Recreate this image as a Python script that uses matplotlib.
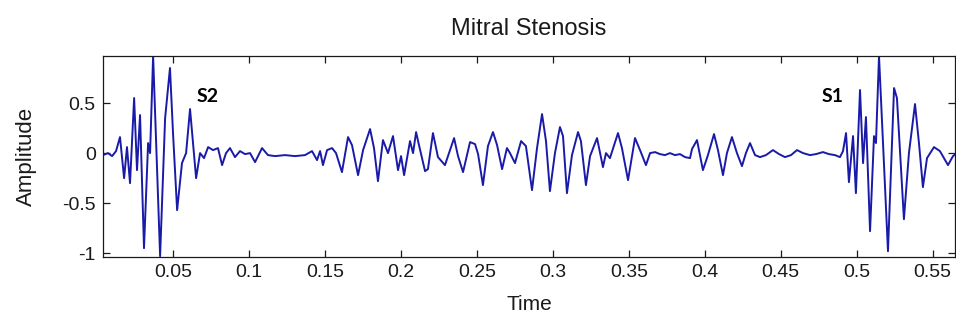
import matplotlib
matplotlib.use("Agg")
import matplotlib.pyplot as plt
from matplotlib import font_manager

# Heart-sound recording (mitral stenosis): time in seconds, normalised amplitude
time_s = [
    0.0039, 0.0072, 0.0099, 0.0125, 0.0151, 0.0178, 0.0197, 0.0217, 0.0244, 0.0263,
    0.0283, 0.0309, 0.0336, 0.0349, 0.0369, 0.0415, 0.0448, 0.0480, 0.0500, 0.0527,
    0.0559, 0.0586, 0.0612, 0.0652, 0.0678, 0.0704, 0.0731, 0.0763, 0.0796, 0.0823,
    0.0849, 0.0875, 0.0908, 0.0941, 0.0974, 0.1007, 0.1040, 0.1086, 0.1125, 0.1172,
    0.1237, 0.1303, 0.1369, 0.1415, 0.1448, 0.1468, 0.1487, 0.1514, 0.1547, 0.1573,
    0.1612, 0.1652, 0.1678, 0.1718, 0.1751, 0.1797, 0.1823, 0.1849, 0.1882, 0.1915,
    0.1948, 0.1981, 0.2001, 0.2021, 0.2060, 0.2080, 0.2100, 0.2119, 0.2159, 0.2178,
    0.2211, 0.2244, 0.2290, 0.2323, 0.2350, 0.2376, 0.2409, 0.2455, 0.2488, 0.2508,
    0.2540, 0.2573, 0.2606, 0.2633, 0.2666, 0.2698, 0.2718, 0.2751, 0.2791, 0.2823,
    0.2863, 0.2896, 0.2929, 0.2955, 0.2981, 0.3014, 0.3047, 0.3067, 0.3093, 0.3126,
    0.3166, 0.3185, 0.3218, 0.3245, 0.3291, 0.3330, 0.3350, 0.3376, 0.3429, 0.3455,
    0.3495, 0.3541, 0.3574, 0.3613, 0.3640, 0.3673, 0.3705, 0.3738, 0.3771, 0.3804,
    0.3837, 0.3870, 0.3903, 0.3916, 0.3949, 0.3988, 0.4021, 0.4061, 0.4087, 0.4120,
    0.4146, 0.4179, 0.4212, 0.4245, 0.4271, 0.4298, 0.4331, 0.4364, 0.4403, 0.4449,
    0.4489, 0.4528, 0.4568, 0.4607, 0.4647, 0.4693, 0.4732, 0.4778, 0.4818, 0.4857,
    0.4890, 0.4910, 0.4930, 0.4949, 0.4976, 0.4995, 0.5022, 0.5042, 0.5061, 0.5088,
    0.5114, 0.5127, 0.5147, 0.5173, 0.5206, 0.5246, 0.5265, 0.5311, 0.5344, 0.5384,
    0.5410, 0.5436, 0.5463, 0.5509, 0.5548, 0.5601, 0.5634, 0.5660,
]
amplitude = [
    -0.02, 0.00, -0.03, 0.02, 0.16, -0.25, 0.06, -0.30, 0.55, -0.17,
    0.38, -0.95, 0.10, 0.00, 0.97, -1.03, 0.35, 0.85, 0.20, -0.57,
    -0.10, 0.00, 0.44, -0.25, 0.00, -0.05, 0.06, 0.03, 0.05, -0.12,
    0.00, 0.05, -0.04, 0.02, -0.01, 0.00, -0.09, 0.05, -0.02, -0.03,
    -0.02, -0.03, -0.02, 0.02, -0.07, 0.02, -0.12, 0.03, 0.05, 0.00,
    -0.19, 0.16, 0.08, -0.22, 0.03, 0.24, 0.05, -0.28, 0.13, 0.00,
    0.17, -0.17, -0.03, -0.22, 0.12, 0.00, 0.21, 0.08, -0.18, -0.16,
    0.20, -0.04, -0.12, 0.03, 0.15, -0.03, -0.19, 0.11, 0.09, -0.01,
    -0.32, 0.07, 0.21, 0.08, -0.16, 0.05, 0.00, -0.10, 0.12, 0.07,
    -0.37, 0.05, 0.39, 0.12, -0.38, 0.00, 0.26, 0.17, -0.40, -0.02,
    0.21, 0.12, -0.32, -0.03, 0.15, -0.14, 0.00, -0.05, 0.20, 0.05,
    -0.27, 0.15, 0.03, -0.12, 0.00, 0.01, -0.01, -0.02, 0.00, -0.02,
    -0.01, -0.04, -0.05, 0.04, 0.13, -0.17, -0.02, 0.19, 0.03, -0.22,
    0.00, 0.16, 0.00, -0.13, 0.00, 0.10, -0.02, -0.04, -0.02, 0.03,
    -0.01, -0.04, -0.02, 0.03, 0.00, -0.02, -0.01, 0.01, -0.01, -0.02,
    -0.04, 0.02, 0.20, -0.29, 0.17, -0.40, 0.63, -0.10, 0.36, -0.78,
    0.17, 0.10, 0.97, 0.10, -0.98, 0.65, 0.55, -0.66, 0.00, 0.49,
    0.10, -0.34, -0.05, 0.06, 0.02, -0.12, -0.03, 0.00,
]

x_ticks = [0.05, 0.10, 0.15, 0.20, 0.25, 0.30, 0.35, 0.40, 0.45, 0.50, 0.55]
x_tick_labels = ["0.05", "0.1", "0.15", "0.2", "0.25", "0.3", "0.35", "0.4", "0.45", "0.5", "0.55"]
y_ticks = [-1.0, -0.5, 0.0, 0.5]
y_tick_labels = ["-1", "-0.5", "0", "0.5"]

# Heart-sound markers: (label, time, amplitude of the text baseline)
sound_labels = ["S2", "S1"]
sound_times = [0.0727, 0.4844]
sound_levels = [0.515, 0.515]

installed = {f.name for f in font_manager.fontManager.ttflist}
axis_font = "Liberation Sans Narrow" if "Liberation Sans Narrow" in installed else "Liberation Sans"

fig = plt.figure(figsize=(9.56, 3.27), dpi=100)
ax = fig.add_axes([0.1074, 0.215, 0.892, 0.6137])

ax.plot(time_s, amplitude, color="#1a1aa8", linewidth=1.4)

ax.set_xlim(0.0037, 0.5650)
ax.set_ylim(-1.035, 0.97)

ax.set_xticks(x_ticks)
ax.set_xticklabels(x_tick_labels)
ax.set_yticks(y_ticks)
ax.set_yticklabels(y_tick_labels)

ax.tick_params(direction="in", length=5, width=0.9, top=True, right=True,
               labelsize=14, colors="#1a1a1a", pad=5)
for lbl in ax.get_xticklabels() + ax.get_yticklabels():
    lbl.set_family(axis_font)
for sp in ax.spines.values():
    sp.set_color("#1a1a1a")
    sp.set_linewidth(0.9)

ax.set_title("Mitral Stenosis", family=axis_font, fontsize=17, color="#1a1a1a", pad=15)
ax.set_xlabel("Time", family=axis_font, fontsize=15, color="#1a1a1a", labelpad=10)
ax.set_ylabel("Amplitude", family=axis_font, fontsize=16, color="#1a1a1a", labelpad=18)

for name, t, lvl in zip(sound_labels, sound_times, sound_levels):
    ax.text(t, lvl, name, family="Lato", fontweight="bold", fontsize=14,
            ha="center", va="baseline", color="black")

fig.savefig("out.png", dpi=100)
